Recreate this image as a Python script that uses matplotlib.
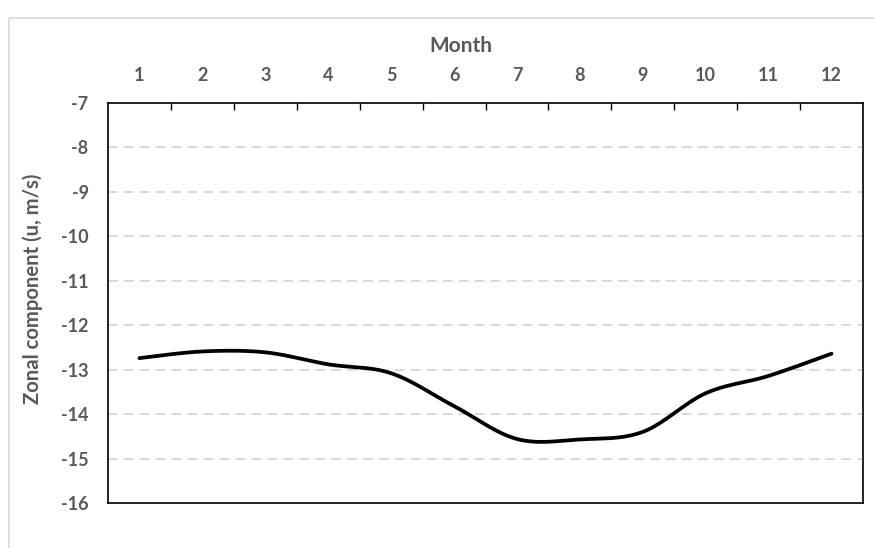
import numpy as np
import matplotlib
matplotlib.use("Agg")
import matplotlib.pyplot as plt
from matplotlib.patches import Rectangle

months = [1, 2, 3, 4, 5, 6, 7, 8, 9, 10, 11, 12]
zonal_u = [-12.74, -12.59, -12.61, -12.88, -13.08, -13.82, -14.56, -14.57, -14.40, -13.53, -13.14, -12.64]
y_ticks = [-7, -8, -9, -10, -11, -12, -13, -14, -15, -16]

TEXT = "#595959"
FONT = "Lato"


def smooth_curve(x, y, n=40):
    """Bezier smoothing through every point (Catmull-Rom style tangents)."""
    x = np.asarray(x, float)
    y = np.asarray(y, float)
    px = np.concatenate([[x[0]], x, [x[-1]]])
    py = np.concatenate([[y[0]], y, [y[-1]]])
    xs, ys = [], []
    t = np.linspace(0, 1, n)
    for i in range(1, len(px) - 2):
        p0 = np.array([px[i], py[i]])
        p3 = np.array([px[i + 1], py[i + 1]])
        c1 = p0 + (np.array([px[i + 1], py[i + 1]]) - np.array([px[i - 1], py[i - 1]])) / 6
        c2 = p3 - (np.array([px[i + 2], py[i + 2]]) - np.array([px[i], py[i]])) / 6
        b = ((1 - t) ** 3)[:, None] * p0 + (3 * (1 - t) ** 2 * t)[:, None] * c1 \
            + (3 * (1 - t) * t ** 2)[:, None] * c2 + (t ** 3)[:, None] * p3
        xs.append(b[:, 0])
        ys.append(b[:, 1])
    return np.concatenate(xs), np.concatenate(ys)


W, H = 874, 548
fig = plt.figure(figsize=(W / 100, H / 100), dpi=100)

# chart area border
fig.patches.append(Rectangle((8.5 / W, 1 - 17.5 / H), 2, -2, transform=fig.transFigure,
                             fill=False, edgecolor="#d9d9d9", linewidth=1.2))

ax = fig.add_axes([108 / W, 1 - 503 / H, (863 - 108) / W, (503 - 103) / H])
ax.set_xlim(0.5, 12.5)
ax.set_ylim(-16, -7)

# dashed horizontal gridlines
for v in y_ticks[1:-1]:
    ax.axhline(v, color="#d9d9d9", linewidth=1.4, linestyle=(0, (5.0, 3.2)), zorder=1)

sx, sy = smooth_curve(months, zonal_u)
ax.plot(sx, sy, color="black", linewidth=2.7, solid_capstyle="round", zorder=3)

for s in ax.spines.values():
    s.set_color("black")
    s.set_linewidth(1.2)

# month labels on top, tick marks at category boundaries
ax.xaxis.tick_top()
ax.set_xticks(np.arange(1.5, 12.5, 1.0))
ax.set_xticks(months, minor=True)
ax.set_xticklabels([])
ax.set_xticklabels([str(m) for m in months], minor=True)
ax.tick_params(axis="x", which="major", direction="in", length=5, width=1, color="black")
ax.tick_params(axis="x", which="minor", length=0, pad=13.5, labelsize=13, labelcolor=TEXT)
for lab in ax.get_xticklabels(minor=True):
    lab.set_fontfamily(FONT)
    lab.set_fontweight("bold")

ax.set_yticks(y_ticks)
ax.set_yticklabels([str(v) for v in y_ticks])
ax.tick_params(axis="y", length=0, pad=14, labelsize=13, labelcolor=TEXT)
for lab in ax.get_yticklabels():
    lab.set_fontfamily(FONT)
    lab.set_fontweight("bold")

fig.text(461 / W, 1 - 46 / H, "Month", ha="center", va="center", fontsize=15,
         fontweight="bold", color=TEXT, family=FONT)
fig.text(33 / W, 1 - 289 / H, "Zonal component (u, m/s)", ha="center", va="center",
         rotation=90, fontsize=14.6, fontweight="bold", color=TEXT, family=FONT)

fig.savefig("out.png", dpi=100)
